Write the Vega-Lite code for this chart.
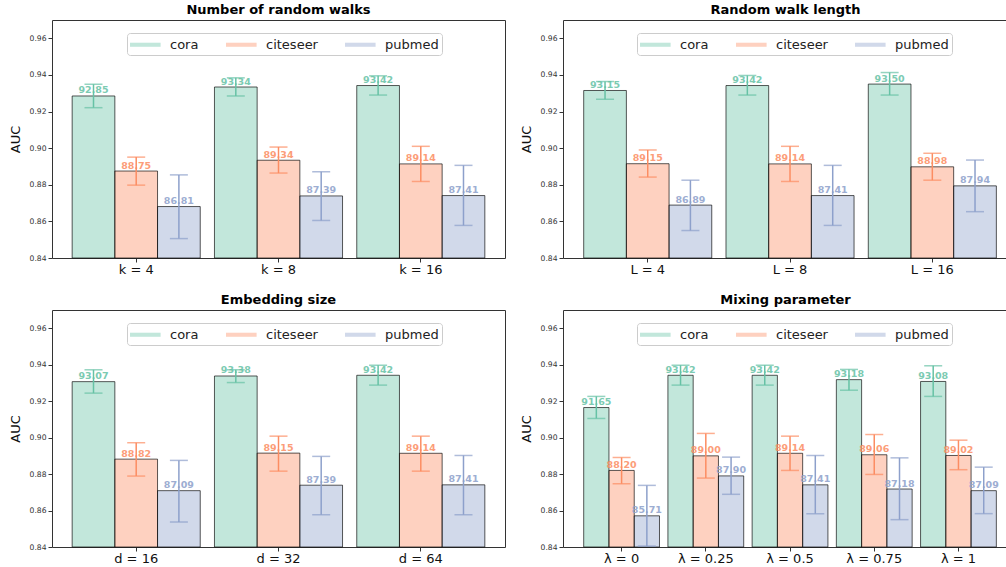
{
  "$schema": "https://vega.github.io/schema/vega-lite/v6.json",
  "padding": {"left": 8, "top": 3, "right": 0, "bottom": 0},
  "background": "white",
  "datasets": {
    "A": [
      {"group": "k = 4", "series": "cora", "auc": 0.9285, "lo": 0.9221, "hi": 0.9349, "label": "92.85"},
      {"group": "k = 4", "series": "citeseer", "auc": 0.8875, "lo": 0.8798, "hi": 0.8951, "label": "88.75"},
      {"group": "k = 4", "series": "pubmed", "auc": 0.8681, "lo": 0.8506, "hi": 0.8854, "label": "86.81"},
      {"group": "k = 8", "series": "cora", "auc": 0.9334, "lo": 0.9285, "hi": 0.9384, "label": "93.34"},
      {"group": "k = 8", "series": "citeseer", "auc": 0.8934, "lo": 0.8864, "hi": 0.9006, "label": "89.34"},
      {"group": "k = 8", "series": "pubmed", "auc": 0.8739, "lo": 0.8605, "hi": 0.8871, "label": "87.39"},
      {"group": "k = 16", "series": "cora", "auc": 0.9342, "lo": 0.929, "hi": 0.9395, "label": "93.42"},
      {"group": "k = 16", "series": "citeseer", "auc": 0.8914, "lo": 0.8818, "hi": 0.901, "label": "89.14"},
      {"group": "k = 16", "series": "pubmed", "auc": 0.8741, "lo": 0.8578, "hi": 0.8906, "label": "87.41"}
    ],
    "B": [
      {"group": "L = 4", "series": "cora", "auc": 0.9315, "lo": 0.9267, "hi": 0.9364, "label": "93.15"},
      {"group": "L = 4", "series": "citeseer", "auc": 0.8915, "lo": 0.8842, "hi": 0.899, "label": "89.15"},
      {"group": "L = 4", "series": "pubmed", "auc": 0.8689, "lo": 0.855, "hi": 0.8825, "label": "86.89"},
      {"group": "L = 8", "series": "cora", "auc": 0.9342, "lo": 0.929, "hi": 0.9397, "label": "93.42"},
      {"group": "L = 8", "series": "citeseer", "auc": 0.8914, "lo": 0.8818, "hi": 0.901, "label": "89.14"},
      {"group": "L = 8", "series": "pubmed", "auc": 0.8741, "lo": 0.8578, "hi": 0.8906, "label": "87.41"},
      {"group": "L = 16", "series": "cora", "auc": 0.935, "lo": 0.929, "hi": 0.9413, "label": "93.50"},
      {"group": "L = 16", "series": "citeseer", "auc": 0.8898, "lo": 0.8825, "hi": 0.8972, "label": "88.98"},
      {"group": "L = 16", "series": "pubmed", "auc": 0.8794, "lo": 0.8653, "hi": 0.8935, "label": "87.94"}
    ],
    "C": [
      {"group": "d = 16", "series": "cora", "auc": 0.9307, "lo": 0.9244, "hi": 0.9372, "label": "93.07"},
      {"group": "d = 16", "series": "citeseer", "auc": 0.8882, "lo": 0.8789, "hi": 0.8972, "label": "88.82"},
      {"group": "d = 16", "series": "pubmed", "auc": 0.8709, "lo": 0.8537, "hi": 0.8875, "label": "87.09"},
      {"group": "d = 32", "series": "cora", "auc": 0.9338, "lo": 0.9302, "hi": 0.9372, "label": "93.38"},
      {"group": "d = 32", "series": "citeseer", "auc": 0.8915, "lo": 0.8816, "hi": 0.9008, "label": "89.15"},
      {"group": "d = 32", "series": "pubmed", "auc": 0.8739, "lo": 0.8577, "hi": 0.8897, "label": "87.39"},
      {"group": "d = 64", "series": "cora", "auc": 0.9342, "lo": 0.9288, "hi": 0.9397, "label": "93.42"},
      {"group": "d = 64", "series": "citeseer", "auc": 0.8914, "lo": 0.8816, "hi": 0.9008, "label": "89.14"},
      {"group": "d = 64", "series": "pubmed", "auc": 0.8741, "lo": 0.8577, "hi": 0.8902, "label": "87.41"}
    ],
    "D": [
      {"group": "λ = 0", "series": "cora", "auc": 0.9165, "lo": 0.9105, "hi": 0.9226, "label": "91.65"},
      {"group": "λ = 0", "series": "citeseer", "auc": 0.882, "lo": 0.8747, "hi": 0.8891, "label": "88.20"},
      {"group": "λ = 0", "series": "pubmed", "auc": 0.8571, "lo": 0.8405, "hi": 0.8738, "label": "85.71"},
      {"group": "λ = 0.25", "series": "cora", "auc": 0.9342, "lo": 0.9288, "hi": 0.9397, "label": "93.42"},
      {"group": "λ = 0.25", "series": "citeseer", "auc": 0.89, "lo": 0.8778, "hi": 0.9023, "label": "89.00"},
      {"group": "λ = 0.25", "series": "pubmed", "auc": 0.879, "lo": 0.8689, "hi": 0.8893, "label": "87.90"},
      {"group": "λ = 0.5", "series": "cora", "auc": 0.9342, "lo": 0.9288, "hi": 0.9397, "label": "93.42"},
      {"group": "λ = 0.5", "series": "citeseer", "auc": 0.8914, "lo": 0.882, "hi": 0.9008, "label": "89.14"},
      {"group": "λ = 0.5", "series": "pubmed", "auc": 0.8741, "lo": 0.8583, "hi": 0.8902, "label": "87.41"},
      {"group": "λ = 0.75", "series": "cora", "auc": 0.9318, "lo": 0.926, "hi": 0.9374, "label": "93.18"},
      {"group": "λ = 0.75", "series": "citeseer", "auc": 0.8906, "lo": 0.8798, "hi": 0.9017, "label": "89.06"},
      {"group": "λ = 0.75", "series": "pubmed", "auc": 0.8718, "lo": 0.855, "hi": 0.8889, "label": "87.18"},
      {"group": "λ = 1", "series": "cora", "auc": 0.9308, "lo": 0.9226, "hi": 0.9394, "label": "93.08"},
      {"group": "λ = 1", "series": "citeseer", "auc": 0.8902, "lo": 0.8824, "hi": 0.8986, "label": "89.02"},
      {"group": "λ = 1", "series": "pubmed", "auc": 0.8709, "lo": 0.8583, "hi": 0.8838, "label": "87.09"}
    ]
  },
  "columns": 2,
  "spacing": {"row": 52, "column": 58},
  "bounds": "flush",
  "resolve": {"scale": {"fill": "independent", "color": "independent", "xOffset": "independent"}, "legend": {"fill": "independent", "color": "independent"}},
  "concat": [
    {
      "title": "Number of random walks",
      "width": 453, "height": 238,
      "data": {"name": "A"},
      "encoding": {
        "x": {"field": "group", "type": "nominal", "sort": ["k = 4", "k = 8", "k = 16"], "title": null, "scale": {"paddingInner": 0.1, "paddingOuter": 0.1417, "align": 0.5}},
        "xOffset": {"field": "series", "type": "nominal", "sort": ["cora", "citeseer", "pubmed"]}
      },
      "layer": [
        {"mark": {"type": "bar", "fillOpacity": 0.4, "stroke": "#000", "strokeOpacity": 0.65, "strokeWidth": 1},
         "encoding": {
           "y": {"field": "auc", "type": "quantitative", "title": "AUC", "scale": {"domain": [0.84, 0.97], "nice": false, "zero": false}, "axis": {"values": [0.84, 0.86, 0.88, 0.9, 0.92, 0.94, 0.96], "format": ".2f", "labelOverlap": false}},
           "y2": {"datum": 0.84},
           "fill": {"field": "series", "type": "nominal", "scale": {"domain": ["cora", "citeseer", "pubmed"], "range": ["#66c2a5", "#fc8d62", "#8da0cb"]}, "legend": {"title": null, "orient": "none", "direction": "horizontal", "legendX": 75, "legendY": 13}}
         }},
        {"mark": {"type": "rule", "strokeWidth": 1.5},
         "encoding": {"y": {"field": "lo", "type": "quantitative", "title": "AUC", "axis": {"values": [0.84, 0.86, 0.88, 0.9, 0.92, 0.94, 0.96], "format": ".2f", "labelOverlap": false}}, "y2": {"field": "hi"},
           "color": {"field": "series", "type": "nominal", "scale": {"domain": ["cora", "citeseer", "pubmed"], "range": ["#66c2a5", "#fc8d62", "#8da0cb"]}, "legend": null}}},
        {"mark": {"type": "tick", "orient": "horizontal", "size": 18, "thickness": 1.5},
         "encoding": {"y": {"field": "lo", "type": "quantitative", "title": "AUC", "axis": {"values": [0.84, 0.86, 0.88, 0.9, 0.92, 0.94, 0.96], "format": ".2f", "labelOverlap": false}},
           "color": {"field": "series", "type": "nominal", "scale": {"domain": ["cora", "citeseer", "pubmed"], "range": ["#66c2a5", "#fc8d62", "#8da0cb"]}, "legend": null}}},
        {"mark": {"type": "tick", "orient": "horizontal", "size": 18, "thickness": 1.5},
         "encoding": {"y": {"field": "hi", "type": "quantitative", "title": "AUC", "axis": {"values": [0.84, 0.86, 0.88, 0.9, 0.92, 0.94, 0.96], "format": ".2f", "labelOverlap": false}},
           "color": {"field": "series", "type": "nominal", "scale": {"domain": ["cora", "citeseer", "pubmed"], "range": ["#66c2a5", "#fc8d62", "#8da0cb"]}, "legend": null}}},
        {"mark": {"type": "text", "fontWeight": "bold", "fontSize": 9.5, "baseline": "bottom", "dy": -0.5, "opacity": 0.85},
         "encoding": {"y": {"field": "auc", "type": "quantitative", "title": "AUC", "axis": {"values": [0.84, 0.86, 0.88, 0.9, 0.92, 0.94, 0.96], "format": ".2f", "labelOverlap": false}}, "text": {"field": "label"},
           "color": {"field": "series", "type": "nominal", "scale": {"domain": ["cora", "citeseer", "pubmed"], "range": ["#66c2a5", "#fc8d62", "#8da0cb"]}, "legend": null}}}
      ]
    },
    {
      "title": "Random walk length",
      "width": 445, "height": 238,
      "data": {"name": "B"},
      "encoding": {
        "x": {"field": "group", "type": "nominal", "sort": ["L = 4", "L = 8", "L = 16"], "title": null, "scale": {"paddingInner": 0.1, "paddingOuter": 0.1136, "align": 0.64}},
        "xOffset": {"field": "series", "type": "nominal", "sort": ["cora", "citeseer", "pubmed"]}
      },
      "layer": [
        {"mark": {"type": "bar", "fillOpacity": 0.4, "stroke": "#000", "strokeOpacity": 0.65, "strokeWidth": 1},
         "encoding": {
           "y": {"field": "auc", "type": "quantitative", "title": "AUC", "scale": {"domain": [0.84, 0.97], "nice": false, "zero": false}, "axis": {"values": [0.84, 0.86, 0.88, 0.9, 0.92, 0.94, 0.96], "format": ".2f", "labelOverlap": false}},
           "y2": {"datum": 0.84},
           "fill": {"field": "series", "type": "nominal", "scale": {"domain": ["cora", "citeseer", "pubmed"], "range": ["#66c2a5", "#fc8d62", "#8da0cb"]}, "legend": {"title": null, "orient": "none", "direction": "horizontal", "legendX": 74, "legendY": 13}}
         }},
        {"mark": {"type": "rule", "strokeWidth": 1.5},
         "encoding": {"y": {"field": "lo", "type": "quantitative", "title": "AUC", "axis": {"values": [0.84, 0.86, 0.88, 0.9, 0.92, 0.94, 0.96], "format": ".2f", "labelOverlap": false}}, "y2": {"field": "hi"},
           "color": {"field": "series", "type": "nominal", "scale": {"domain": ["cora", "citeseer", "pubmed"], "range": ["#66c2a5", "#fc8d62", "#8da0cb"]}, "legend": null}}},
        {"mark": {"type": "tick", "orient": "horizontal", "size": 18, "thickness": 1.5},
         "encoding": {"y": {"field": "lo", "type": "quantitative", "title": "AUC", "axis": {"values": [0.84, 0.86, 0.88, 0.9, 0.92, 0.94, 0.96], "format": ".2f", "labelOverlap": false}},
           "color": {"field": "series", "type": "nominal", "scale": {"domain": ["cora", "citeseer", "pubmed"], "range": ["#66c2a5", "#fc8d62", "#8da0cb"]}, "legend": null}}},
        {"mark": {"type": "tick", "orient": "horizontal", "size": 18, "thickness": 1.5},
         "encoding": {"y": {"field": "hi", "type": "quantitative", "title": "AUC", "axis": {"values": [0.84, 0.86, 0.88, 0.9, 0.92, 0.94, 0.96], "format": ".2f", "labelOverlap": false}},
           "color": {"field": "series", "type": "nominal", "scale": {"domain": ["cora", "citeseer", "pubmed"], "range": ["#66c2a5", "#fc8d62", "#8da0cb"]}, "legend": null}}},
        {"mark": {"type": "text", "fontWeight": "bold", "fontSize": 9.5, "baseline": "bottom", "dy": -0.5, "opacity": 0.85},
         "encoding": {"y": {"field": "auc", "type": "quantitative", "title": "AUC", "axis": {"values": [0.84, 0.86, 0.88, 0.9, 0.92, 0.94, 0.96], "format": ".2f", "labelOverlap": false}}, "text": {"field": "label"},
           "color": {"field": "series", "type": "nominal", "scale": {"domain": ["cora", "citeseer", "pubmed"], "range": ["#66c2a5", "#fc8d62", "#8da0cb"]}, "legend": null}}}
      ]
    },
    {
      "title": "Embedding size",
      "width": 453, "height": 237,
      "data": {"name": "C"},
      "encoding": {
        "x": {"field": "group", "type": "nominal", "sort": ["d = 16", "d = 32", "d = 64"], "title": null, "scale": {"paddingInner": 0.1, "paddingOuter": 0.1417, "align": 0.5}},
        "xOffset": {"field": "series", "type": "nominal", "sort": ["cora", "citeseer", "pubmed"]}
      },
      "layer": [
        {"mark": {"type": "bar", "fillOpacity": 0.4, "stroke": "#000", "strokeOpacity": 0.65, "strokeWidth": 1},
         "encoding": {
           "y": {"field": "auc", "type": "quantitative", "title": "AUC", "scale": {"domain": [0.84, 0.97], "nice": false, "zero": false}, "axis": {"values": [0.84, 0.86, 0.88, 0.9, 0.92, 0.94, 0.96], "format": ".2f", "labelOverlap": false}},
           "y2": {"datum": 0.84},
           "fill": {"field": "series", "type": "nominal", "scale": {"domain": ["cora", "citeseer", "pubmed"], "range": ["#66c2a5", "#fc8d62", "#8da0cb"]}, "legend": {"title": null, "orient": "none", "direction": "horizontal", "legendX": 75, "legendY": 13}}
         }},
        {"mark": {"type": "rule", "strokeWidth": 1.5},
         "encoding": {"y": {"field": "lo", "type": "quantitative", "title": "AUC", "axis": {"values": [0.84, 0.86, 0.88, 0.9, 0.92, 0.94, 0.96], "format": ".2f", "labelOverlap": false}}, "y2": {"field": "hi"},
           "color": {"field": "series", "type": "nominal", "scale": {"domain": ["cora", "citeseer", "pubmed"], "range": ["#66c2a5", "#fc8d62", "#8da0cb"]}, "legend": null}}},
        {"mark": {"type": "tick", "orient": "horizontal", "size": 18, "thickness": 1.5},
         "encoding": {"y": {"field": "lo", "type": "quantitative", "title": "AUC", "axis": {"values": [0.84, 0.86, 0.88, 0.9, 0.92, 0.94, 0.96], "format": ".2f", "labelOverlap": false}},
           "color": {"field": "series", "type": "nominal", "scale": {"domain": ["cora", "citeseer", "pubmed"], "range": ["#66c2a5", "#fc8d62", "#8da0cb"]}, "legend": null}}},
        {"mark": {"type": "tick", "orient": "horizontal", "size": 18, "thickness": 1.5},
         "encoding": {"y": {"field": "hi", "type": "quantitative", "title": "AUC", "axis": {"values": [0.84, 0.86, 0.88, 0.9, 0.92, 0.94, 0.96], "format": ".2f", "labelOverlap": false}},
           "color": {"field": "series", "type": "nominal", "scale": {"domain": ["cora", "citeseer", "pubmed"], "range": ["#66c2a5", "#fc8d62", "#8da0cb"]}, "legend": null}}},
        {"mark": {"type": "text", "fontWeight": "bold", "fontSize": 9.5, "baseline": "bottom", "dy": -0.5, "opacity": 0.85},
         "encoding": {"y": {"field": "auc", "type": "quantitative", "title": "AUC", "axis": {"values": [0.84, 0.86, 0.88, 0.9, 0.92, 0.94, 0.96], "format": ".2f", "labelOverlap": false}}, "text": {"field": "label"},
           "color": {"field": "series", "type": "nominal", "scale": {"domain": ["cora", "citeseer", "pubmed"], "range": ["#66c2a5", "#fc8d62", "#8da0cb"]}, "legend": null}}}
      ]
    },
    {
      "title": "Mixing parameter",
      "width": 445, "height": 237,
      "data": {"name": "D"},
      "encoding": {
        "x": {"field": "group", "type": "nominal", "sort": ["λ = 0", "λ = 0.25", "λ = 0.5", "λ = 0.75", "λ = 1"], "title": null, "scale": {"paddingInner": 0.1, "paddingOuter": 0.192, "align": 0.64}},
        "xOffset": {"field": "series", "type": "nominal", "sort": ["cora", "citeseer", "pubmed"]}
      },
      "layer": [
        {"mark": {"type": "bar", "fillOpacity": 0.4, "stroke": "#000", "strokeOpacity": 0.65, "strokeWidth": 1},
         "encoding": {
           "y": {"field": "auc", "type": "quantitative", "title": "AUC", "scale": {"domain": [0.84, 0.97], "nice": false, "zero": false}, "axis": {"values": [0.84, 0.86, 0.88, 0.9, 0.92, 0.94, 0.96], "format": ".2f", "labelOverlap": false}},
           "y2": {"datum": 0.84},
           "fill": {"field": "series", "type": "nominal", "scale": {"domain": ["cora", "citeseer", "pubmed"], "range": ["#66c2a5", "#fc8d62", "#8da0cb"]}, "legend": {"title": null, "orient": "none", "direction": "horizontal", "legendX": 74, "legendY": 13}}
         }},
        {"mark": {"type": "rule", "strokeWidth": 1.5},
         "encoding": {"y": {"field": "lo", "type": "quantitative", "title": "AUC", "axis": {"values": [0.84, 0.86, 0.88, 0.9, 0.92, 0.94, 0.96], "format": ".2f", "labelOverlap": false}}, "y2": {"field": "hi"},
           "color": {"field": "series", "type": "nominal", "scale": {"domain": ["cora", "citeseer", "pubmed"], "range": ["#66c2a5", "#fc8d62", "#8da0cb"]}, "legend": null}}},
        {"mark": {"type": "tick", "orient": "horizontal", "size": 18, "thickness": 1.5},
         "encoding": {"y": {"field": "lo", "type": "quantitative", "title": "AUC", "axis": {"values": [0.84, 0.86, 0.88, 0.9, 0.92, 0.94, 0.96], "format": ".2f", "labelOverlap": false}},
           "color": {"field": "series", "type": "nominal", "scale": {"domain": ["cora", "citeseer", "pubmed"], "range": ["#66c2a5", "#fc8d62", "#8da0cb"]}, "legend": null}}},
        {"mark": {"type": "tick", "orient": "horizontal", "size": 18, "thickness": 1.5},
         "encoding": {"y": {"field": "hi", "type": "quantitative", "title": "AUC", "axis": {"values": [0.84, 0.86, 0.88, 0.9, 0.92, 0.94, 0.96], "format": ".2f", "labelOverlap": false}},
           "color": {"field": "series", "type": "nominal", "scale": {"domain": ["cora", "citeseer", "pubmed"], "range": ["#66c2a5", "#fc8d62", "#8da0cb"]}, "legend": null}}},
        {"mark": {"type": "text", "fontWeight": "bold", "fontSize": 9.5, "baseline": "bottom", "dy": -0.5, "opacity": 0.85},
         "encoding": {"y": {"field": "auc", "type": "quantitative", "title": "AUC", "axis": {"values": [0.84, 0.86, 0.88, 0.9, 0.92, 0.94, 0.96], "format": ".2f", "labelOverlap": false}}, "text": {"field": "label"},
           "color": {"field": "series", "type": "nominal", "scale": {"domain": ["cora", "citeseer", "pubmed"], "range": ["#66c2a5", "#fc8d62", "#8da0cb"]}, "legend": null}}}
      ]
    }
  ],
  "config": {
    "font": "DejaVu Sans",
    "view": {"stroke": "#333", "strokeWidth": 1},
    "axis": {"grid": false, "domain": false, "tickColor": "#333", "tickSize": 4, "labelColor": "#333", "titleFontWeight": "normal", "titleColor": "#111"},
    "axisY": {"labelFontSize": 7.6, "labelPadding": 2, "titleFontSize": 13, "titlePadding": 7},
    "axisX": {"labelFontSize": 13, "labelColor": "#111", "labelPadding": 1, "labelAngle": 0},
    "title": {"fontSize": 13, "fontWeight": "bold", "offset": 3, "color": "#000"},
    "legend": {"fillColor": "white", "strokeColor": "#ccc", "cornerRadius": 3, "padding": 3, "symbolType": "M-1,-0.24H2.6V0.24H-1Z", "symbolSize": 289, "symbolOpacity": 0.4, "symbolStrokeWidth": 0, "labelFontSize": 13, "labelColor": "#222", "columnPadding": 27, "labelOffset": 23}
  }
}
